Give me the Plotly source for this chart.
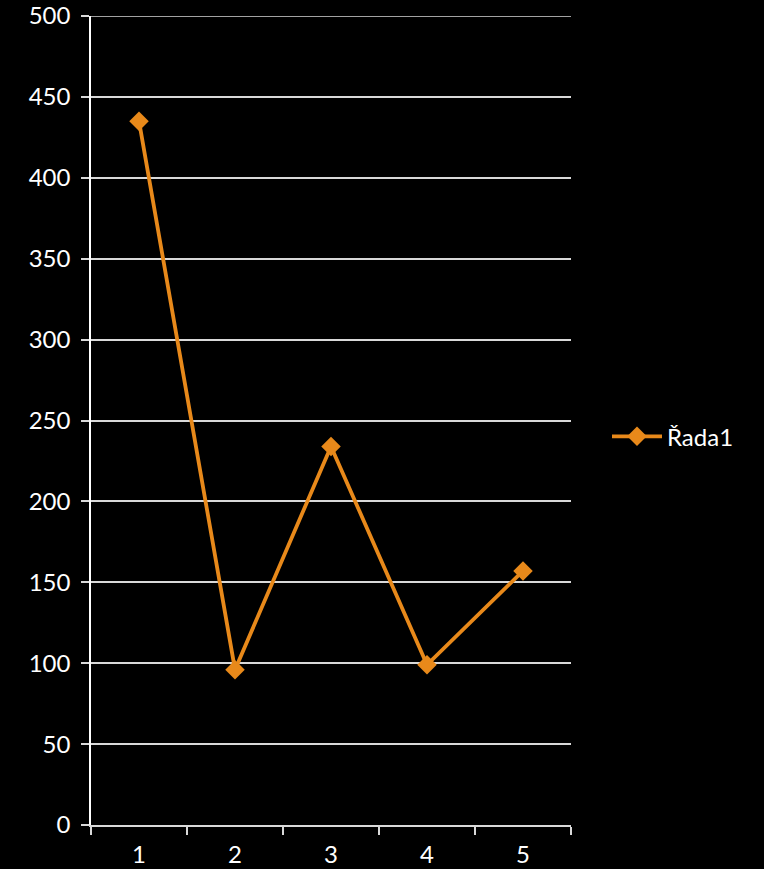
import plotly.graph_objects as go

categories = ["1", "2", "3", "4", "5"]
values = [435, 96, 234, 99, 157]
series_name = "Řada1"
y_ticks = [0, 50, 100, 150, 200, 250, 300, 350, 400, 450, 500]

orange = "#E8891A"
grid = "#d9d9d9"
font = dict(family="Lato, 'Open Sans', sans-serif", size=24, color="white")

fig = go.Figure()
fig.add_trace(go.Scatter(
    x=categories, y=values, name=series_name, mode="lines+markers",
    line=dict(color=orange, width=3.8),
    marker=dict(symbol="diamond", size=15, color=orange),
    showlegend=True,
))

# top gridline at the axis maximum
fig.add_shape(type="line", xref="paper", yref="y", x0=-0.017, x1=1,
              y0=y_ticks[-1], y1=y_ticks[-1], layer="below",
              line=dict(color=grid, width=1.5))

fig.update_layout(
    width=764, height=869,
    paper_bgcolor="black", plot_bgcolor="black",
    margin=dict(l=91, r=193, t=16, b=44),
    font=font,
    showlegend=True,
    legend=dict(x=1.075, y=0.48, xanchor="left", yanchor="middle",
                font=dict(size=24, color="white"), bgcolor="rgba(0,0,0,0)",
                itemwidth=50),
    xaxis=dict(type="category", tickson="boundaries", ticks="outside",
               range=[-0.5, 4.5], automargin=False,
               ticklen=8, tickcolor=grid, tickwidth=1.5,
               showline=True, linecolor=grid, linewidth=1.5,
               showgrid=False, zeroline=False,
               tickfont=font, ticklabelstandoff=7),
    yaxis=dict(range=[0, 500], tickvals=y_ticks, ticks="outside",
               automargin=False,
               ticklen=8, tickcolor=grid, tickwidth=1.5,
               showgrid=True, gridcolor=grid, gridwidth=1.5,
               showline=True, linecolor="white", linewidth=1.5,
               zeroline=False, tickfont=font, ticklabelstandoff=6),
)

fig.write_html("out.html")
